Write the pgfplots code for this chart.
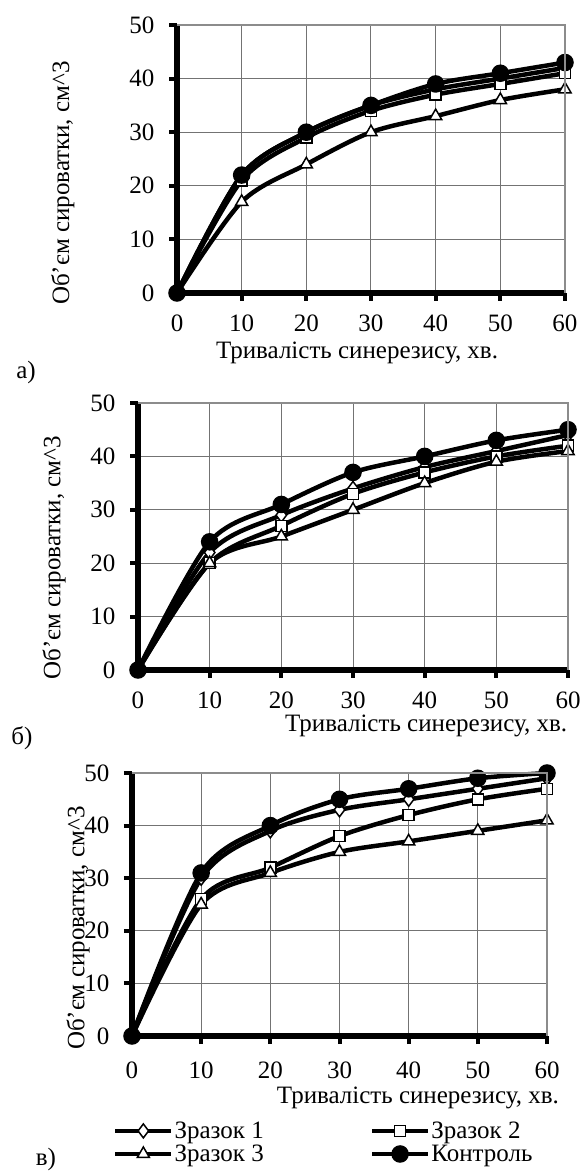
\documentclass[border=0pt]{standalone}
\usepackage{fontspec}
\setmainfont{Liberation Serif}
\usepackage{pgfplots}
\pgfplotsset{compat=1.18}

\newcommand{\bigfont}{\fontsize{25}{29}\selectfont}

\pgfplotsset{
  syn/.style={
    scale only axis,
    xmin=0, xmax=60, ymin=0, ymax=50,
    xtick={0,10,...,60}, ytick={0,10,...,50},
    axis x line*=bottom, axis y line*=left,
    axis line style={line width=6pt, black, -},
    tick align=outside, major tick length=8pt,
    tick style={line width=4pt, black},
    xmajorgrids, ymajorgrids,
    grid style={black!55, line width=1pt},
    tick label style={font=\bigfont},
    label style={font=\bigfont},
    /pgf/number format/assume math mode=true,
    xticklabel style={yshift=-10pt},
    yticklabel style={xshift=-11pt},
    ylabel={Об’єм сироватки, см\textasciicircum{}3},
    xlabel={Тривалість синерезису, хв.},
    clip=false,
    every axis plot/.append style={line width=4.5pt, black, smooth, tension=0.5,
      mark options={line width=1.5pt, solid, fill=white}},
    after end axis/.code={
      \draw[black!45, line width=1.5pt] (rel axis cs:0,1) -- (rel axis cs:1,1) -- (rel axis cs:1,0);
    },
  },
  s1/.style={mark=diamond*, mark size=7pt},
  s2/.style={mark=square*, mark size=5.5pt},
  s3/.style={mark=triangle*, mark size=7pt},
  ctl/.style={mark=*, mark size=6.5pt, mark options={fill=black}},
}

\begin{document}
\begin{tikzpicture}
\useasboundingbox (0pt,0pt) rectangle (582pt,1173pt);

% а)
\begin{axis}[syn, at={(177pt,880pt)}, anchor=south west, width=388pt, height=268pt,
  ylabel style={at={(axis description cs:-0.294,0.41)}, anchor=center},
  xlabel style={at={(axis description cs:0.464,-0.224)}, anchor=center}]
\addplot[s1] coordinates {(0,0) (10,22) (20,30) (30,35) (40,38) (50,40) (60,42)};
\addplot[s2] coordinates {(0,0) (10,21) (20,29) (30,34) (40,37) (50,39) (60,41)};
\addplot[s3] coordinates {(0,0) (10,17) (20,24) (30,30) (40,33) (50,36) (60,38)};
\addplot[ctl] coordinates {(0,0) (10,22) (20,30) (30,35) (40,39) (50,41) (60,43)};
\end{axis}

% б)
\begin{axis}[syn, at={(138pt,503pt)}, anchor=south west, width=430pt, height=267pt,
  ylabel style={at={(axis description cs:-0.195,0.42)}, anchor=center},
  xlabel style={at={(axis description cs:0.67,-0.21)}, anchor=center}]
\addplot[s1] coordinates {(0,0) (10,22) (20,29) (30,34) (40,38) (50,41) (60,44)};
\addplot[s2] coordinates {(0,0) (10,20) (20,27) (30,33) (40,37) (50,40) (60,42)};
\addplot[s3] coordinates {(0,0) (10,20) (20,25) (30,30) (40,35) (50,39) (60,41)};
\addplot[ctl] coordinates {(0,0) (10,24) (20,31) (30,37) (40,40) (50,43) (60,45)};
\end{axis}

% в)
\begin{axis}[syn, at={(132pt,137pt)}, anchor=south west, width=415pt, height=263pt,
  xticklabel style={yshift=-4pt},
  ylabel style={at={(axis description cs:-0.13,0.41)}, anchor=center},
  xlabel style={at={(axis description cs:0.689,-0.236)}, anchor=center},
  legend columns=2,
  legend style={at={(axis description cs:-0.046,-0.322)}, anchor=north west, draw=none,
    fill=none, font=\bigfont, inner sep=0pt, row sep=3pt,
    nodes={inner sep=1pt},
    /tikz/every even column/.append style={column sep=105pt}},
  legend cell align=left,
  legend image code/.code={%
    \draw[mark repeat=2, mark phase=2, #1] plot[sharp plot] coordinates {(0pt,0pt) (28pt,0pt) (56pt,0pt)};}]
\addplot[s1] coordinates {(0,0) (10,30) (20,39) (30,43) (40,45) (50,47) (60,49)};
\addlegendentry{Зразок 1}
\addplot[s2] coordinates {(0,0) (10,26) (20,32) (30,38) (40,42) (50,45) (60,47)};
\addlegendentry{Зразок 2}
\addplot[s3] coordinates {(0,0) (10,25) (20,31) (30,35) (40,37) (50,39) (60,41)};
\addlegendentry{Зразок 3}
\addplot[ctl] coordinates {(0,0) (10,31) (20,40) (30,45) (40,47) (50,49) (60,50)};
\addlegendentry{Контроль}
\end{axis}

\node[font=\bigfont] at (26pt,801pt) {а)};
\node[font=\bigfont] at (22pt,435pt) {б)};
\node[font=\bigfont, inner sep=0pt, anchor=base] at (46pt,7pt) {в)};
\end{tikzpicture}
\end{document}
